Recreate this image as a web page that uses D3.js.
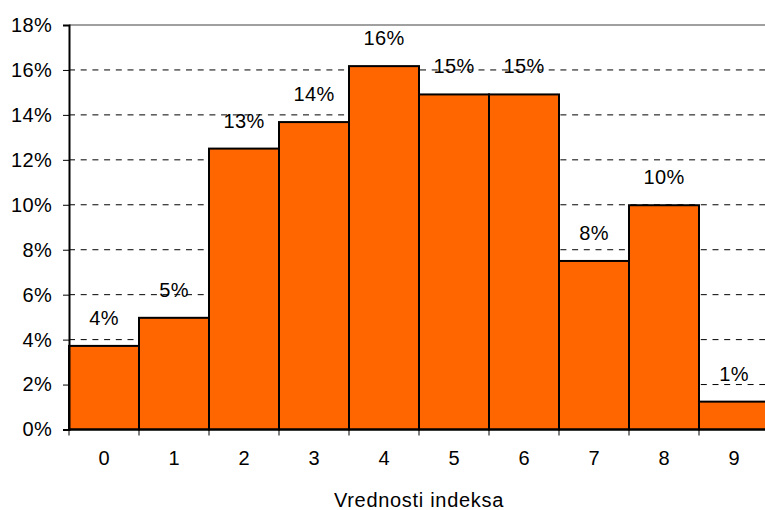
<!DOCTYPE html>
<html>
<head>
<meta charset="utf-8">
<script src="https://cdn.jsdelivr.net/npm/d3@7/dist/d3.min.js"></script>
<style>
  html, body { margin: 0; padding: 0; background: #ffffff; }
  svg { display: block; }
  text { font-family: "Liberation Sans", Arial, sans-serif; fill: #000; }
</style>
</head>
<body>
<svg id="chart" width="765" height="510"></svg>
<script>
// Share of observations for each index value
const categories = ["0", "1", "2", "3", "4", "5", "6", "7", "8", "9"];
const shares = [0.0372, 0.0497, 0.1250, 0.1368, 0.1617, 0.1491, 0.1491, 0.0750, 0.0998, 0.0124];
const yTicks = [0, 0.02, 0.04, 0.06, 0.08, 0.10, 0.12, 0.14, 0.16, 0.18];
const xTitle = "Vrednosti indeksa";

const svg = d3.select("#chart");
const plot = { left: 69, right: 769, top: 25, bottom: 429.5 };

const x = d3.scaleBand().domain(categories).range([plot.left, plot.right]).padding(0);
const y = d3.scaleLinear().domain([0, 0.18]).range([plot.bottom, plot.top]);
const pct = d3.format(".0%");
const fontSize = 20;
const numSpacing = "0.3px";

// Dashed horizontal gridlines
svg.append("g")
  .selectAll("line")
  .data(yTicks.filter(v => v > 0 && v < 0.18))
  .join("line")
  .attr("x1", plot.left).attr("x2", plot.right)
  .attr("y1", d => y(d)).attr("y2", d => y(d))
  .attr("stroke", "#000").attr("stroke-width", 1)
  .attr("stroke-dasharray", "6,5.7");

// Top border of the plot area
svg.append("line")
  .attr("x1", plot.left).attr("x2", plot.right)
  .attr("y1", y(0.18)).attr("y2", y(0.18))
  .attr("stroke", "#a0a0a0").attr("stroke-width", 2);

// Bars
svg.append("g")
  .selectAll("rect")
  .data(shares)
  .join("rect")
  .attr("x", (d, i) => x(categories[i]))
  .attr("width", x.bandwidth())
  .attr("y", d => y(d))
  .attr("height", d => y(0) - y(d))
  .attr("fill", "#ff6600")
  .attr("stroke", "#000")
  .attr("stroke-width", 2);

// Value labels above bars
svg.append("g")
  .selectAll("text")
  .data(shares)
  .join("text")
  .attr("x", (d, i) => x(categories[i]) + x.bandwidth() / 2)
  .attr("y", d => y(d) - 21)
  .attr("text-anchor", "middle")
  .style("font-size", fontSize + "px")
  .style("letter-spacing", numSpacing)
  .text(d => pct(d));

// Y axis
const yAxis = svg.append("g")
  .attr("transform", `translate(${plot.left},0)`)
  .call(d3.axisLeft(y).tickValues(yTicks).tickFormat(pct).tickSize(6).tickPadding(11));
yAxis.select(".domain").attr("stroke", "#000").attr("stroke-width", 2);
yAxis.selectAll(".tick line").attr("stroke", "#000").attr("stroke-width", 1);
yAxis.selectAll(".tick text")
  .style("font-size", fontSize + "px")
  .style("font-family", '"Liberation Sans", Arial, sans-serif')
  .style("letter-spacing", numSpacing)
  .attr("fill", "#000");

// X axis baseline and ticks at category boundaries
svg.append("line")
  .attr("x1", plot.left).attr("x2", plot.right)
  .attr("y1", y(0)).attr("y2", y(0))
  .attr("stroke", "#000").attr("stroke-width", 2);

const boundaries = categories.map(c => x(c)).concat([x.range()[1]]);
svg.append("g")
  .selectAll("line")
  .data(boundaries)
  .join("line")
  .attr("x1", d => d).attr("x2", d => d)
  .attr("y1", y(0)).attr("y2", y(0) + 6)
  .attr("stroke", "#000").attr("stroke-width", 1);

// X category labels
svg.append("g")
  .selectAll("text")
  .data(categories)
  .join("text")
  .attr("x", d => x(d) + x.bandwidth() / 2)
  .attr("y", 465)
  .attr("text-anchor", "middle")
  .style("font-size", fontSize + "px")
  .text(d => d);

// X axis title
svg.append("text")
  .attr("x", (plot.left + plot.right) / 2)
  .attr("y", 506.5)
  .attr("text-anchor", "middle")
  .style("font-size", fontSize + "px")
  .style("letter-spacing", "0.7px")
  .text(xTitle);
</script>
</body>
</html>
